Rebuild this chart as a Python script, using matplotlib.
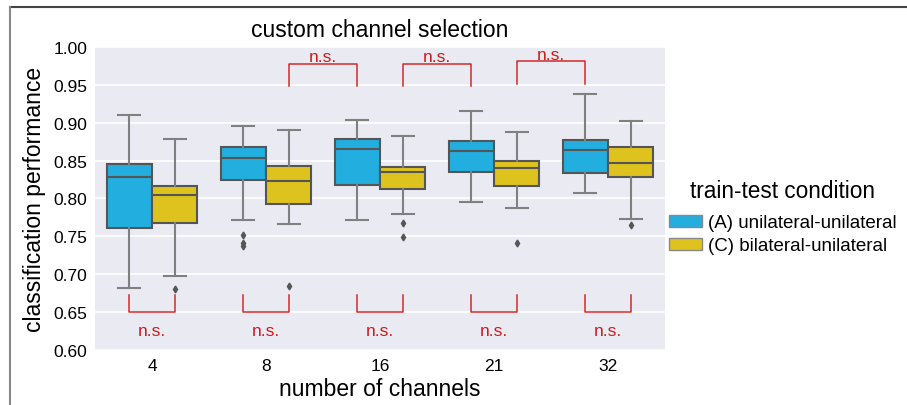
import matplotlib
matplotlib.use("Agg")
import matplotlib.pyplot as plt
import numpy as np
from matplotlib.lines import Line2D
from matplotlib.patches import Patch

plt.rcParams['font.family'] = ['Liberation Sans', 'DejaVu Sans']

channels = ['4', '8', '16', '21', '32']
conditions = ['(A) unilateral-unilateral', '(C) bilateral-unilateral']
colors = ['#22aedf', '#dec31f']

# five-number summaries: whislo, q1, med, q3, whishi
cond_a = [
    [0.682, 0.761, 0.829, 0.846, 0.910],
    [0.772, 0.824, 0.854, 0.868, 0.896],
    [0.772, 0.818, 0.865, 0.879, 0.903],
    [0.795, 0.835, 0.863, 0.876, 0.915],
    [0.807, 0.834, 0.864, 0.877, 0.938],
]
cond_c = [
    [0.698, 0.768, 0.804, 0.817, 0.878],
    [0.766, 0.793, 0.823, 0.843, 0.890],
    [0.779, 0.813, 0.835, 0.841, 0.882],
    [0.787, 0.816, 0.840, 0.849, 0.888],
    [0.773, 0.829, 0.847, 0.868, 0.902],
]
fliers_a = [[], [0.752, 0.741, 0.737], [], [], []]
fliers_c = [[0.680], [0.685], [0.768, 0.749], [0.741], [0.765]]

# significance brackets: (group, condition) pairs
top_pairs = [((1, 1), (2, 0)), ((2, 1), (3, 0)), ((3, 1), (4, 0))]
top_heights = [0.978, 0.978, 0.981]
bottom_pairs = [((i, 0), (i, 1)) for i in range(len(channels))]

fig = plt.figure(figsize=(9.07, 4.06), dpi=100)
ax = fig.add_axes([0.1047, 0.1355, 0.6285, 0.7463])
ax.set_facecolor('#eaeaf2')

x = np.arange(len(channels))
width = 0.4
edge = '#555555'
wcol = '#808080'


def stats_list(summary, fliers):
    out = []
    for s, f in zip(summary, fliers):
        out.append(dict(whislo=s[0], q1=s[1], med=s[2], q3=s[3], whishi=s[4], fliers=f))
    return out


for k, (summary, fliers) in enumerate([(cond_a, fliers_a), (cond_c, fliers_c)]):
    pos = x + (k - 0.5) * width
    ax.bxp(stats_list(summary, fliers), positions=pos, widths=width * 0.98,
           patch_artist=True, manage_ticks=False,
           boxprops=dict(facecolor=colors[k], edgecolor=edge, linewidth=1.5),
           medianprops=dict(color=edge, linewidth=1.5),
           whiskerprops=dict(color=wcol, linewidth=1.5),
           capprops=dict(color=wcol, linewidth=1.5),
           flierprops=dict(marker='d', markerfacecolor='#555555', markeredgecolor='#555555',
                           markersize=3.5))


def xpos(p):
    return x[p[0]] + (p[1] - 0.5) * width


red = '#d52a2a'
for (p1, p2), h in zip(top_pairs, top_heights):
    x1, x2 = xpos(p1), xpos(p2)
    ax.plot([x1, x1, x2, x2], [h - 0.030, h, h, h - 0.030], color=red, lw=1.1)
    ax.text((x1 + x2) / 2, h + 0.003, 'n.s.', color='#cc1c1c', fontsize=12.5,
            ha='center', va='baseline')
for (p1, p2) in bottom_pairs:
    x1, x2 = xpos(p1), xpos(p2)
    ax.plot([x1, x1, x2, x2], [0.672, 0.650, 0.650, 0.672], color=red, lw=1.1)
    ax.text((x1 + x2) / 2, 0.620, 'n.s.', color='#cc1c1c', fontsize=12.5,
            ha='center', va='baseline')

ax.set_xlim(-0.5, len(channels) - 0.5)
ax.set_ylim(0.6, 1.0)
ax.set_yticks(np.arange(0.60, 1.001, 0.05))
ax.set_yticklabels([f'{v:.2f}' for v in np.arange(0.60, 1.001, 0.05)])
ax.set_xticks(x)
ax.set_xticklabels(channels)
ax.tick_params(length=0, labelsize=12.5)
ax.tick_params(axis='x', pad=5.5)
ax.tick_params(axis='y', pad=5.5)
ax.yaxis.grid(True, color='white', linewidth=1.2)
ax.set_axisbelow(True)
for s in ax.spines.values():
    s.set_visible(False)

ax.set_title('custom channel selection', fontsize=16.5, pad=8)
ax.set_xlabel('number of channels', fontsize=16.5, labelpad=3)
ax.set_ylabel('classification performance', fontsize=16.5, labelpad=5)

handles = [Patch(facecolor=c, edgecolor='#888888', linewidth=1) for c in colors]
leg = ax.legend(handles, conditions, title='train-test condition', loc='upper left',
                bbox_to_anchor=(0.738, 0.557), bbox_transform=fig.transFigure,
                frameon=False, borderpad=0, borderaxespad=0, fontsize=13.5,
                title_fontsize=16.3, handlelength=1.75, handleheight=0.6,
                handletextpad=0.3, labelspacing=0.31)
leg._legend_box.sep = 9

# frame lines from the original crop
fig.add_artist(Line2D([10 / 907, 1], [1 - 8 / 406, 1 - 8 / 406], color='#444444', lw=1.5))
fig.add_artist(Line2D([10 / 907, 10 / 907], [0, 1 - 8 / 406], color='#888888', lw=1.5))

fig.savefig('out.png', dpi=100)
